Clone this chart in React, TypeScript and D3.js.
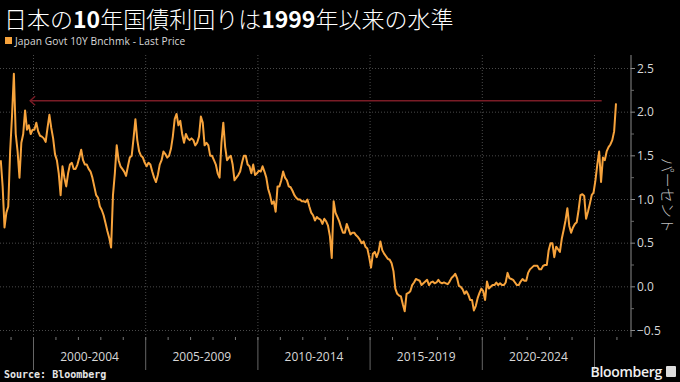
import React from "react";
import * as d3 from "d3";

const W = 680;
const H = 382;

const titleParts = [
  { t: "日本の", b: false },
  { t: "10", b: true },
  { t: "年国債利回りは", b: false },
  { t: "1999", b: true },
  { t: "年以来の水準", b: false },
];
const legendLabel = "Japan Govt 10Y Bnchmk - Last Price";
const unitLabel = "パーセント";
const sourceLabel = "Source: Bloomberg";
const brandLabel = "Bloomberg";

const yTicks = [-0.5, 0, 0.5, 1, 1.5, 2, 2.5];
const yMinorTicks = [-0.25, 0.25, 0.75, 1.25, 1.75, 2.25];
const periodLabels = ["2000-2004", "2005-2009", "2010-2014", "2015-2019", "2020-2024"];
const periodStarts = [2000, 2005, 2010, 2015, 2020];
const separatorYears = [2000, 2005, 2010, 2015, 2020, 2025];
const yearTicks = d3.range(1999, 2027);

// monthly benchmark 10Y JGB yield (%)
const y1998 = [1.45, 1.15, 0.68, 0.85, 0.92, 1.55]; // Jul-Dec
const y1999 = [1.95, 2.44, 1.75, 1.55, 1.25, 1.65, 1.75, 2.02, 1.8, 1.85, 1.75, 1.8];
const y2000 = [1.8, 1.88, 1.78, 1.73, 1.72, 1.7, 1.66, 1.82, 1.97, 1.82, 1.7, 1.52];
const y2001 = [1.45, 1.3, 1.05, 1.38, 1.25, 1.15, 1.3, 1.4, 1.42, 1.35, 1.35, 1.4];
const y2002 = [1.48, 1.57, 1.45, 1.4, 1.4, 1.35, 1.32, 1.25, 1.15, 1.05, 1.02, 0.92];
const y2003 = [0.88, 0.82, 0.73, 0.64, 0.56, 0.45, 1.05, 1.3, 1.62, 1.45, 1.38, 1.35];
const y2004 = [1.32, 1.27, 1.38, 1.48, 1.5, 1.7, 1.92, 1.68, 1.55, 1.5, 1.48, 1.42];
const y2005 = [1.38, 1.42, 1.4, 1.32, 1.25, 1.2, 1.28, 1.4, 1.45, 1.55, 1.52, 1.48];
const y2006 = [1.5, 1.58, 1.72, 1.92, 1.98, 1.85, 1.9, 1.75, 1.65, 1.75, 1.7, 1.68];
const y2007 = [1.7, 1.68, 1.62, 1.65, 1.72, 1.95, 1.88, 1.62, 1.65, 1.62, 1.5, 1.5];
const y2008 = [1.45, 1.4, 1.3, 1.25, 1.65, 1.88, 1.6, 1.45, 1.48, 1.5, 1.4, 1.22];
const y2009 = [1.25, 1.28, 1.32, 1.42, 1.5, 1.5, 1.4, 1.38, 1.3, 1.4, 1.28, 1.3];
const y2010 = [1.33, 1.32, 1.38, 1.32, 1.25, 1.12, 1.05, 0.95, 0.98, 0.86, 1.15, 1.15];
const y2011 = [1.22, 1.32, 1.25, 1.22, 1.15, 1.14, 1.1, 1.05, 1.02, 1.0, 1.0, 0.98];
const y2012 = [0.98, 0.97, 1.0, 0.92, 0.85, 0.82, 0.76, 0.8, 0.78, 0.77, 0.72, 0.78];
const y2013 = [0.75, 0.7, 0.58, 0.33, 0.98, 0.85, 0.8, 0.75, 0.68, 0.62, 0.62, 0.72];
const y2014 = [0.66, 0.6, 0.62, 0.62, 0.59, 0.57, 0.54, 0.5, 0.52, 0.46, 0.44, 0.34];
const y2015 = [0.22, 0.38, 0.4, 0.34, 0.4, 0.52, 0.42, 0.38, 0.35, 0.32, 0.31, 0.27];
const y2016 = [0.18, -0.02, -0.08, -0.1, -0.11, -0.2, -0.28, -0.08, -0.07, -0.05, 0.02, 0.05];
const y2017 = [0.09, 0.08, 0.07, 0.02, 0.04, 0.06, 0.08, 0.02, 0.05, 0.06, 0.04, 0.05];
const y2018 = [0.08, 0.05, 0.04, 0.05, 0.04, 0.03, 0.06, 0.1, 0.12, 0.15, 0.1, 0.01];
const y2019 = [0.0, -0.03, -0.08, -0.05, -0.09, -0.15, -0.15, -0.27, -0.22, -0.13, -0.07, -0.02];
const y2020 = [-0.05, -0.15, 0.06, -0.02, 0.0, 0.02, 0.02, 0.05, 0.02, 0.04, 0.02, 0.02];
const y2021 = [0.05, 0.16, 0.1, 0.09, 0.08, 0.05, 0.02, 0.02, 0.06, 0.09, 0.07, 0.07];
const y2022 = [0.16, 0.2, 0.22, 0.24, 0.24, 0.24, 0.2, 0.2, 0.24, 0.25, 0.25, 0.42];
const y2023 = [0.5, 0.5, 0.34, 0.46, 0.43, 0.4, 0.55, 0.65, 0.76, 0.9, 0.7, 0.62];
const y2024 = [0.68, 0.72, 0.74, 0.88, 1.05, 1.06, 1.04, 0.78, 0.86, 0.95, 1.05, 1.08];
const y2025 = [1.22, 1.4, 1.55, 1.2, 1.48, 1.45, 1.55, 1.6, 1.63, 1.68, 1.78, 2.1];

const arrowValue = 2.13;
const arrowFromYear = 1999.85;
const arrowToYear = 2025.32;

const yearly: [number, number[]][] = [
  [1998, y1998], [1999, y1999], [2000, y2000], [2001, y2001], [2002, y2002],
  [2003, y2003], [2004, y2004], [2005, y2005], [2006, y2006], [2007, y2007],
  [2008, y2008], [2009, y2009], [2010, y2010], [2011, y2011], [2012, y2012],
  [2013, y2013], [2014, y2014], [2015, y2015], [2016, y2016], [2017, y2017],
  [2018, y2018], [2019, y2019], [2020, y2020], [2021, y2021], [2022, y2022],
  [2023, y2023], [2024, y2024], [2025, y2025],
];

const series: { t: number; v: number }[] = [];
yearly.forEach(([yr, vals]) => {
  const offset = 12 - vals.length;
  vals.forEach((v, i) => series.push({ t: yr + (offset + i + 0.5) / 12, v }));
});

const ORANGE = "#f7a33c";
const GRID = "#4a4a4a";
const TXT = "#d8d8d8";

export default function App() {
  const x = d3.scaleLinear().domain([2000, 2025]).range([33.5, 594.5]);
  const y = d3.scaleLinear().domain([-0.5, 2.5]).range([330.5, 68.5]);
  const axisX = 631;
  const plotTop = 55;
  const plotBottom = 337;

  const line = d3
    .line<{ t: number; v: number }>()
    .x((d) => x(d.t))
    .y((d) => y(d.v))
    .curve(d3.curveLinear);

  const ay = y(arrowValue);
  const ax0 = x(arrowFromYear);
  const ax1 = x(arrowToYear);

  return (
    <div style={{ position: "fixed", left: 0, top: 0, width: W, height: H, background: "#000" }}>
      <svg width={W} height={H} style={{ display: "block" }}>
        <rect x={0} y={0} width={W} height={H} fill="#000" />
        <text x={4} y={27.5} fill="#fff" fontSize={23} fontFamily="'Noto Sans CJK JP', sans-serif">
          {titleParts.map((p, i) => (
            <tspan key={i} fontWeight={p.b ? 700 : 300}>
              {p.t}
            </tspan>
          ))}
        </text>
        <rect x={5} y={37} width={7} height={7} fill={ORANGE} />
        <text x={15} y={44.5} fill={TXT} fontSize={10.2} letterSpacing={0.1} fontFamily="'Open Sans', sans-serif">
          {legendLabel}
        </text>

        <defs>
          <clipPath id="plotclip">
            <rect x={0} y={plotTop} width={axisX} height={plotBottom - plotTop} />
          </clipPath>
        </defs>

        {yTicks.map((v) => (
          <line key={"h" + v} x1={0} x2={axisX} y1={y(v)} y2={y(v)} stroke={GRID} strokeWidth={1} strokeDasharray="1,2" />
        ))}
        {separatorYears.map((yr) => (
          <line key={"v" + yr} x1={x(yr)} x2={x(yr)} y1={plotTop} y2={plotBottom} stroke={GRID} strokeWidth={1} strokeDasharray="1,2" />
        ))}

        <g clipPath="url(#plotclip)">
          <path d={line(series) || ""} fill="none" stroke={ORANGE} strokeWidth={2} strokeLinejoin="round" />
        </g>

        <g stroke="#7a1c26" strokeWidth={1.4} fill="none">
          <line x1={ax0} x2={ax1} y1={ay} y2={ay} />
          <polyline points={`${ax0 + 5},${ay - 4.5} ${ax0},${ay} ${ax0 + 5},${ay + 4.5}`} />
        </g>

        {/* right axis */}
        <line x1={axisX} x2={axisX} y1={plotTop} y2={plotBottom} stroke="#8a8a8a" strokeWidth={1} />
        {yTicks.map((v) => (
          <g key={"yt" + v}>
            <line x1={axisX} x2={axisX + 4} y1={y(v)} y2={y(v)} stroke="#8a8a8a" />
            <text x={axisX + 6} y={y(v)} dy="0.35em" fill={TXT} fontSize={12} fontFamily="'Open Sans', sans-serif">
              {d3.format(".1f")(v)}
            </text>
          </g>
        ))}
        {yMinorTicks.map((v) => (
          <line key={"ym" + v} x1={axisX} x2={axisX + 3} y1={y(v)} y2={y(v)} stroke="#6a6a6a" />
        ))}
        <text
          transform={`translate(662,${y(1.05)}) rotate(90)`}
          textAnchor="middle"
          fill="#bdbdbd"
          fontSize={15}
          fontWeight={300}
          fontFamily="'Noto Sans CJK JP', sans-serif"
        >
          {unitLabel}
        </text>

        {/* bottom axis */}
        {yearTicks.map((yr) => (
          <line key={"xt" + yr} x1={x(yr)} x2={x(yr)} y1={plotBottom} y2={plotBottom + 3} stroke="#777" />
        ))}
        {separatorYears.map((yr) => (
          <line key={"sep" + yr} x1={x(yr)} x2={x(yr)} y1={plotBottom} y2={370} stroke="#666" />
        ))}
        {periodLabels.map((lab, i) => (
          <text
            key={lab}
            x={(x(periodStarts[i]) + x(periodStarts[i] + 5)) / 2}
            y={361}
            textAnchor="middle"
            fill={TXT}
            fontSize={12}
            fontFamily="'Open Sans', sans-serif"
          >
            {lab}
          </text>
        ))}

        <text x={4} y={378} fill="#e6e6e6" fontSize={10} fontWeight={700} fontFamily="'DejaVu Sans Mono', monospace">
          {sourceLabel}
        </text>
        <text x={662} y={377} textAnchor="end" fill="#f0f0f0" fontSize={14} fontWeight={600} fontFamily="'Open Sans', sans-serif" letterSpacing={-0.3}>
          {brandLabel}
        </text>
        <rect x={666} y={366} width={10} height={11} rx={1} fill="#ddd" />
      </svg>
    </div>
  );
}
